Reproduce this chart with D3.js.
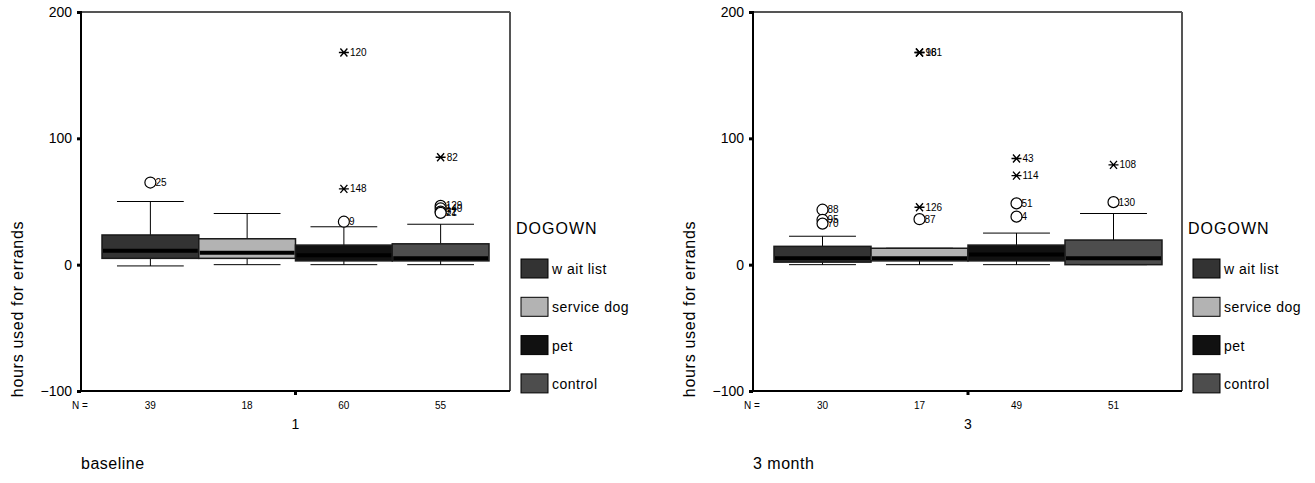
<!DOCTYPE html>
<html>
<head>
<meta charset="utf-8">
<style>
    body { margin: 0; background: #fff; }
    svg { display: block; font-family: Arial, 'Liberation Sans', sans-serif; }
    .axis .domain { display: none; }
    .axis .tick text { font-size: 14px; fill: #000; }
</style>
</head>
<body>
<svg width="1315" height="483"></svg>

<script src="https://d3js.org/d3.v7.min.js"></script>
<script>
// ---- data ----
const groups = ["wait list", "service dog", "pet", "control"];
const legendLabels = ["w ait list", "service dog", "pet", "control"];
const fills = ["#333333", "#b3b3b3", "#111111", "#4d4d4d"];
const yTicks = [-100, 0, 100, 200];

// baseline (time 1)
const baseLow = [-1, 0, 0, 0];
const baseQ1 = [5, 5, 3, 3];
const baseMedian = [11, 9.5, 7.5, 5];
const baseQ3 = [23.5, 20.5, 15.5, 16.5];
const baseHigh = [50, 40.5, 30, 32];
const baseN = [39, 18, 60, 55];
const baseOutGroup = [0, 2, 2, 2, 3, 3, 3, 3, 3];
const baseOutValue = [65, 34, 60, 168, 85, 46.5, 44.5, 42, 41];
const baseOutLabel = ["25", "9", "148", "120", "82", "129", "140", "32", "21"];
const baseOutKind = ["o", "o", "*", "*", "*", "o", "o", "o", "o"];

// 3 month (time 3)
const m3Low = [0, 0, 0, 0];
const m3Q1 = [2, 3, 3, 0];
const m3Median = [5, 5, 8, 5];
const m3Q3 = [14.5, 13, 15.5, 19.5];
const m3High = [22.5, 13, 25, 40.5];
const m3N = [30, 17, 49, 51];
const m3OutGroup = [0, 0, 0, 1, 1, 1, 1, 2, 2, 2, 2, 3, 3];
const m3OutValue = [43.5, 35.5, 32.5, 36, 45.5, 168, 168, 48.5, 38, 70.5, 84, 49.5, 79];
const m3OutLabel = ["88", "95", "70", "87", "126", "98", "161", "51", "4", "114", "43", "130", "108"];
const m3OutKind = ["o", "o", "o", "o", "*", "*", "*", "o", "o", "*", "*", "o", "*"];

const panels = [
    { left: 81, right: 510, boxStart: 102, boxEnd: 489, xLabel: "1", caption: "baseline",
      low: baseLow, q1: baseQ1, med: baseMedian, q3: baseQ3, high: baseHigh, n: baseN,
      og: baseOutGroup, ov: baseOutValue, ol: baseOutLabel, ok: baseOutKind },
    { left: 753, right: 1182, boxStart: 774, boxEnd: 1162, xLabel: "3", caption: "3 month",
      low: m3Low, q1: m3Q1, med: m3Median, q3: m3Q3, high: m3High, n: m3N,
      og: m3OutGroup, ov: m3OutValue, ol: m3OutLabel, ok: m3OutKind }
];

const svg = d3.select("svg");
const plotTop = 12, plotBottom = 391;

let y = d3.scaleLinear().domain([-100, 200]).range([plotBottom, plotTop]);

panels.forEach(function (p) {
    let g = svg.append("g");

    let x = d3.scaleBand()
        .domain(groups)
        .range([p.boxStart, p.boxEnd])
        .padding(0);

    let bw = x.bandwidth();
    let whisk = bw * 0.69;

    // frame: top/right grey, left/bottom black
    g.append("line").attr("x1", p.left).attr("x2", p.right).attr("y1", plotTop).attr("y2", plotTop)
        .style("stroke", "#555").style("stroke-width", 2);
    g.append("line").attr("x1", p.right).attr("x2", p.right).attr("y1", plotTop).attr("y2", plotBottom)
        .style("stroke", "#555").style("stroke-width", 2);
    g.append("line").attr("x1", p.left).attr("x2", p.left).attr("y1", plotTop - 1).attr("y2", plotBottom + 1)
        .style("stroke", "#000").style("stroke-width", 2);
    g.append("line").attr("x1", p.left).attr("x2", p.right).attr("y1", plotBottom).attr("y2", plotBottom)
        .style("stroke", "#000").style("stroke-width", 2);

    // y axis
    let yAxis = d3.axisLeft(y).tickValues(yTicks).tickSize(4).tickPadding(5);
    let ya = g.append("g").attr("class", "axis")
        .attr("transform", `translate(${p.left},0)`)
        .call(yAxis);
    ya.selectAll(".tick line").style("stroke", "#000").style("stroke-width", 3);

    // x center tick
    let mid = (p.boxStart + p.boxEnd) / 2;
    g.append("line").attr("x1", mid).attr("x2", mid).attr("y1", plotBottom).attr("y2", plotBottom + 4)
        .style("stroke", "#000").style("stroke-width", 3);

    // y axis title
    g.append("text")
        .attr("transform", `translate(${p.left - 64},309) rotate(-90)`)
        .attr("text-anchor", "middle")
        .attr("dominant-baseline", "central")
        .style("font-size", "16px")
        .style("letter-spacing", "0.7px")
        .text("hours used for errands");

    // whiskers
    groups.forEach(function (grp, i) {
        let cx = x(grp) + bw / 2;
        g.append("line").attr("x1", cx).attr("x2", cx).attr("y1", y(p.high[i])).attr("y2", y(p.low[i]))
            .style("stroke", "#000").style("stroke-width", 1);
        g.append("line").attr("x1", cx - whisk / 2).attr("x2", cx + whisk / 2)
            .attr("y1", y(p.high[i])).attr("y2", y(p.high[i]))
            .style("stroke", "#000").style("stroke-width", 1);
        g.append("line").attr("x1", cx - whisk / 2).attr("x2", cx + whisk / 2)
            .attr("y1", y(p.low[i])).attr("y2", y(p.low[i]))
            .style("stroke", "#000").style("stroke-width", 1);
    });

    // boxes
    g.selectAll(".box").data(groups).enter().append("rect")
        .attr("x", d => x(d))
        .attr("width", bw)
        .attr("y", (d, i) => y(p.q3[i]))
        .attr("height", (d, i) => y(p.q1[i]) - y(p.q3[i]))
        .style("fill", (d, i) => fills[i])
        .style("stroke", "#1a1a1a")
        .style("stroke-width", 1.5);

    // medians
    g.selectAll(".med").data(groups).enter().append("line")
        .attr("x1", d => x(d) + 1)
        .attr("x2", d => x(d) + bw - 1)
        .attr("y1", (d, i) => y(p.med[i]))
        .attr("y2", (d, i) => y(p.med[i]))
        .style("stroke", "#000")
        .style("stroke-width", 4);

    // outliers (labels overlap where the source overlaps)
    p.ov.forEach(function (v, k) {
        let cx = x(groups[p.og[k]]) + bw / 2;
        let cy = y(v);
        if (p.ok[k] === "o") {
            g.append("circle").attr("cx", cx).attr("cy", cy).attr("r", 5.5)
                .style("fill", "#fff").style("stroke", "#000").style("stroke-width", 1.2);
            g.append("text").attr("x", cx + 5).attr("y", cy).attr("dominant-baseline", "central")
                .style("font-size", "10px").text(p.ol[k]);
        } else {
            g.append("path")
                .attr("d", `M${cx - 5},${cy}H${cx + 5}M${cx - 3.5},${cy - 4}L${cx + 3.5},${cy + 4}M${cx - 3.5},${cy + 4}L${cx + 3.5},${cy - 4}`)
                .style("stroke", "#000").style("stroke-width", 1.4).style("fill", "none");
            g.append("text").attr("x", cx + 6).attr("y", cy).attr("dominant-baseline", "central")
                .style("font-size", "10px").text(p.ol[k]);
        }
    });

    // N row
    g.append("text").attr("x", p.left - 9).attr("y", 405).attr("dominant-baseline", "central")
        .style("font-size", "10px").text("N =");
    g.selectAll(".n").data(groups).enter().append("text")
        .attr("x", d => x(d) + bw / 2)
        .attr("y", 405)
        .attr("text-anchor", "middle")
        .attr("dominant-baseline", "central")
        .style("font-size", "10px")
        .text((d, i) => p.n[i]);

    // category label
    g.append("text").attr("x", mid).attr("y", 424).attr("text-anchor", "middle")
        .attr("dominant-baseline", "central").style("font-size", "14px").text(p.xLabel);

    // caption
    g.append("text").attr("x", p.left).attr("y", 463).attr("dominant-baseline", "central")
        .style("font-size", "16px").style("letter-spacing", "0.5px").text(p.caption);

    // legend
    let lx = p.right + 11;
    g.append("text").attr("x", lx - 5).attr("y", 228).attr("dominant-baseline", "central")
        .style("font-size", "16px").style("letter-spacing", "1px").text("DOGOWN");
    let leg = g.selectAll(".leg").data(groups).enter().append("g")
        .attr("transform", (d, i) => `translate(${lx},${259 + i * 38.3})`);
    leg.append("rect").attr("width", 27).attr("height", 19)
        .style("fill", (d, i) => fills[i]).style("stroke", "#000").style("stroke-width", 1);
    leg.append("text").attr("x", 31).attr("y", 10).attr("dominant-baseline", "central")
        .style("font-size", "14px").style("letter-spacing", "0.5px")
        .text((d, i) => legendLabels[i]);
});
</script>
</body>
</html>
